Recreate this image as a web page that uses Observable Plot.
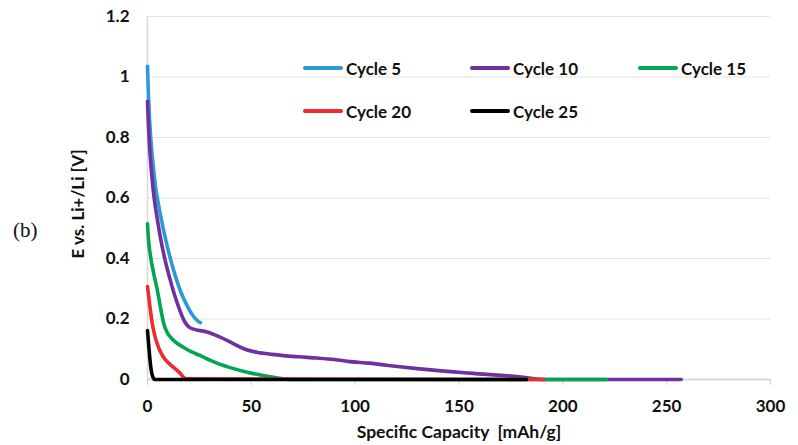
<!DOCTYPE html>
<html>
<head>
<meta charset="utf-8">
<script src="https://cdn.jsdelivr.net/npm/d3@7"></script>
<script src="https://cdn.jsdelivr.net/npm/@observablehq/plot@0.6"></script>
<style>
  body { margin: 0; background: #fff; }
  #fig { position: relative; width: 798px; height: 445px; font-family: Lato, "Open Sans", sans-serif; }
  #fig svg { position: absolute; left: 0; top: 0; }
  .tag { position: absolute; left: 13px; top: 218px; font-family: "Liberation Serif", "DejaVu Serif", serif; font-size: 21px; line-height: 24px; color: #111; }
  .legend { position: absolute; font-weight: bold; font-size: 17px; color: #111; line-height: 1; }
  .legend .item { position: absolute; display: flex; align-items: center; white-space: nowrap; }
  .legend .swatch { width: 40px; height: 4px; border-radius: 2px; margin-right: 3px; }
</style>
</head>
<body>
<div id="fig"></div>
<script>
// Discharge curves: specific capacity (mAh/g) vs. potential (V vs. Li+/Li)
const seriesNames = ["Cycle 5", "Cycle 10", "Cycle 15", "Cycle 20", "Cycle 25"];
const seriesColors = ["#2D9AD7", "#7030A0", "#00A650", "#EE2B2E", "#000000"];

const capacity5 = [0, 0.4, 1, 2, 3, 4, 5, 6.5, 8.5, 11, 13.5, 16, 19, 22, 24, 25.5];
const voltage5  = [1.035, 0.95, 0.86, 0.76, 0.69, 0.63, 0.59, 0.535, 0.47, 0.4, 0.34, 0.29, 0.245, 0.21, 0.195, 0.188];

const capacity10 = [0, 0.4, 1, 2, 3.2, 4.5, 6.2, 8.3, 10.5, 13, 15.5, 18, 20, 23, 28.7, 35, 41.5, 47, 52.7, 60, 65.5, 73, 81.6, 90, 97.6, 107, 115, 131, 155, 179, 192, 257];
const voltage10  = [0.92, 0.85, 0.77, 0.68, 0.6, 0.54, 0.47, 0.4, 0.34, 0.28, 0.23, 0.19, 0.173, 0.165, 0.157, 0.14, 0.118, 0.1, 0.09, 0.083, 0.079, 0.075, 0.071, 0.066, 0.059, 0.054, 0.047, 0.035, 0.021, 0.009, 0, 0];

const capacity15 = [0, 0.5, 1.4, 3, 4.6, 6.2, 7.8, 9.5, 11.9, 14.5, 17.4, 21, 25.5, 30, 35, 41.5, 47, 52.7, 60, 70, 221];
const voltage15  = [0.515, 0.46, 0.41, 0.35, 0.3, 0.24, 0.185, 0.155, 0.134, 0.118, 0.106, 0.092, 0.079, 0.064, 0.05, 0.036, 0.026, 0.017, 0.008, 0, 0];

const capacity20 = [0, 1, 2.3, 3.5, 4.7, 6, 7.8, 10, 12.6, 15.5, 18.5, 191];
const voltage20  = [0.307, 0.25, 0.185, 0.145, 0.118, 0.095, 0.073, 0.055, 0.04, 0.022, 0.002, 0];

const capacity25 = [0, 0.5, 1, 1.6, 2.8, 3.5, 182.5];
const voltage25  = [0.162, 0.12, 0.08, 0.04, 0.005, 0, 0];

const xTicks = [0, 50, 100, 150, 200, 250, 300];
const yTicks = [0, 0.2, 0.4, 0.6, 0.8, 1, 1.2];

const capacities = [capacity5, capacity10, capacity15, capacity20, capacity25];
const voltages = [voltage5, voltage10, voltage15, voltage20, voltage25];

// long table, drawn in cycle order so later cycles sit on top
const rows = seriesNames.flatMap((name, i) =>
  capacities[i].map((c, j) => ({cycle: name, capacity: c, voltage: voltages[i][j]}))
);

const chart = Plot.plot({
  width: 798,
  height: 445,
  marginLeft: 147,
  marginRight: 28,
  marginTop: 16,
  marginBottom: 66,
  style: {fontFamily: "Lato, 'Open Sans', sans-serif", fontSize: "17px", fontWeight: "bold", color: "#111", background: "transparent"},
  x: {domain: [0, 300]},
  y: {domain: [0, 1.2]},
  color: {domain: seriesNames, range: seriesColors},
  marks: [
    Plot.gridY(yTicks.filter(d => d > 0), {stroke: "#e6e6d6", strokeOpacity: 1, strokeWidth: 1.2}),
    Plot.ruleX([0], {y1: 0, y2: 1.2, stroke: "#d9d9d9", strokeWidth: 1.5}),
    Plot.ruleY([0], {stroke: "#d9d9d9", strokeWidth: 2}),
    Plot.axisX({ticks: xTicks, tickSize: 6, tickPadding: 14, stroke: "#d0d0d0", fill: "#111", label: null}),
    Plot.axisY({ticks: yTicks, tickSize: 0, tickPadding: 18, fill: "#111", label: null,
                tickFormat: d => String(+d.toFixed(1))}),
    Plot.line(rows, {x: "capacity", y: "voltage", z: "cycle", stroke: "cycle",
                     strokeWidth: 3.6, strokeLinecap: "round", strokeLinejoin: "round", curve: "monotone-x"}),
    Plot.text(["Specific Capacity  [mAh/g]"], {frameAnchor: "bottom", lineAnchor: "middle", dy: 53,
                                               fontSize: 17.5, fontWeight: "bold", fill: "#111"}),
    Plot.text(["E vs. Li+/Li [V]"], {frameAnchor: "left", textAnchor: "middle", lineAnchor: "middle",
                                     rotate: -90, dx: -69, dy: 6, fontSize: 17, fontWeight: "bold", fill: "#111"})
  ]
});

const fig = document.getElementById("fig");
fig.appendChild(chart);

const tag = document.createElement("div");
tag.className = "tag";
tag.textContent = "(b)";
fig.appendChild(tag);

// legend inside the plot area, two rows of three columns
const legend = document.createElement("div");
legend.className = "legend";
fig.appendChild(legend);
const colLeft = [303, 470, 638];
const rowMid = [68, 111];
seriesNames.forEach((name, i) => {
  const item = document.createElement("div");
  item.className = "item";
  item.style.left = colLeft[i % 3] + "px";
  item.style.top = (rowMid[Math.floor(i / 3)] - 10) + "px";
  item.style.height = "20px";
  const sw = document.createElement("span");
  sw.className = "swatch";
  sw.style.background = seriesColors[i];
  const tx = document.createElement("span");
  tx.textContent = name;
  item.appendChild(sw);
  item.appendChild(tx);
  legend.appendChild(item);
});
</script>
</body>
</html>
